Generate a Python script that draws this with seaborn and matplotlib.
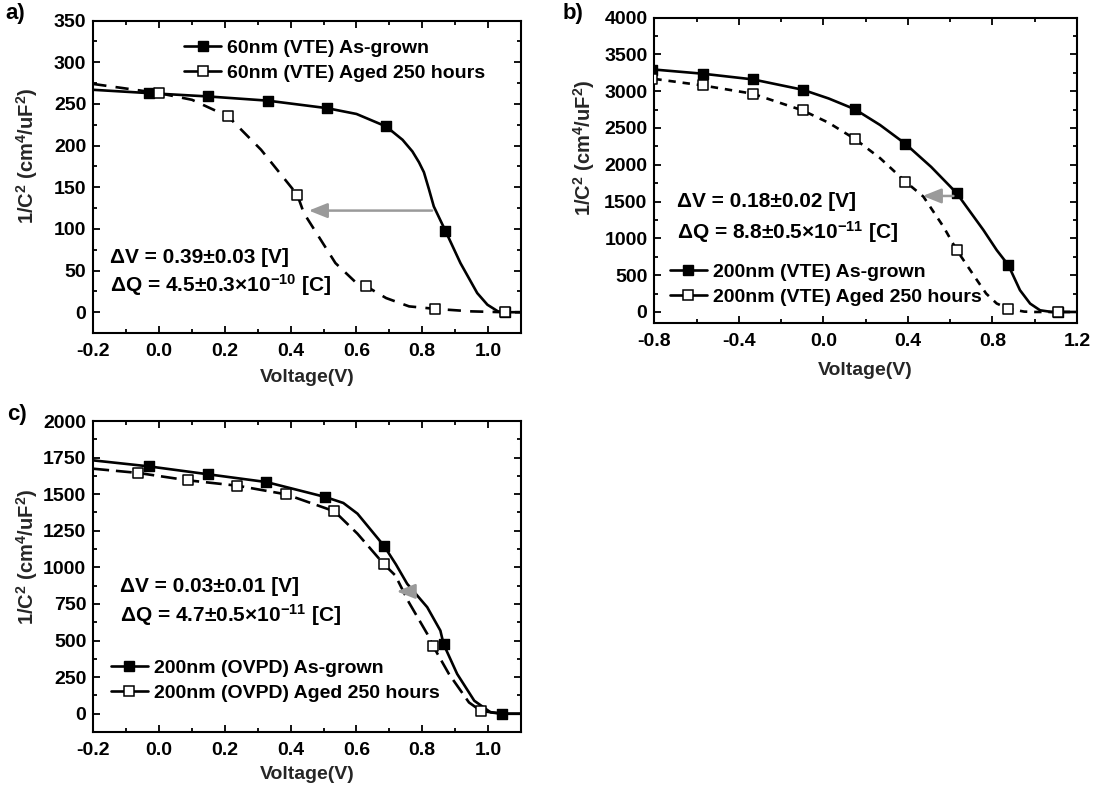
import matplotlib
matplotlib.use("Agg")
import matplotlib.pyplot as plt
import seaborn as sns
from matplotlib.lines import Line2D
from matplotlib.ticker import MultipleLocator, FormatStrFormatter

# ---------------- data ----------------
# Panel a) 60nm (VTE)
a_grown_mx = [-0.03, 0.15, 0.33, 0.51, 0.69, 0.87, 1.05]
a_grown_my = [263, 259, 254, 245, 223, 98, 0]
a_aged_mx = [0.0, 0.21, 0.42, 0.63, 0.84, 1.05]
a_aged_my = [263, 235, 141, 31, 4, 0]
a_grown_cx = [-0.2, -0.03, 0.15, 0.33, 0.51, 0.60, 0.69, 0.74, 0.77, 0.79, 0.805, 0.82, 0.835, 0.87, 0.916, 0.967, 0.998, 1.03, 1.05, 1.1]
a_grown_cy = [267, 263, 259, 254, 245, 238, 223, 207, 193, 180, 168, 148, 127, 98, 59, 23, 9, 1, 0, 0]
a_aged_cx = [-0.2, 0.0, 0.1, 0.21, 0.31, 0.42, 0.44, 0.536, 0.60, 0.63, 0.69, 0.76, 0.84, 0.95, 1.05, 1.1]
a_aged_cy = [274, 263, 255, 235, 195, 141, 119, 59, 35, 31, 17, 7, 4, 1, 0, 0]

# Panel b) 200nm (VTE)
b_grown_mx = [-0.81, -0.572, -0.335, -0.098, 0.148, 0.388, 0.63, 0.875, 1.11]
b_grown_my = [3282, 3237, 3160, 3019, 2755, 2284, 1616, 636, 0]
b_aged_mx = [-0.81, -0.572, -0.335, -0.098, 0.148, 0.388, 0.63, 0.875, 1.11]
b_aged_my = [3160, 3078, 2965, 2738, 2352, 1771, 845, 45, 0]
b_grown_cx = [-0.8, -0.572, -0.335, -0.098, 0.025, 0.148, 0.268, 0.388, 0.51, 0.63, 0.757, 0.82, 0.875, 0.93, 0.978, 1.025, 1.08, 1.2]
b_grown_cy = [3293, 3237, 3160, 3019, 2900, 2755, 2540, 2284, 1970, 1616, 1113, 840, 636, 296, 114, 23, 0, 0]
b_aged_cx = [-0.8, -0.572, -0.335, -0.098, 0.025, 0.148, 0.268, 0.388, 0.473, 0.568, 0.63, 0.72, 0.77, 0.82, 0.875, 0.95, 1.0, 1.2]
b_aged_cy = [3166, 3078, 2965, 2738, 2570, 2352, 2090, 1771, 1567, 1158, 845, 460, 250, 115, 45, 5, 0, 0]

# Panel c) 200nm (OVPD)
c_grown_mx = [-0.031, 0.149, 0.326, 0.505, 0.684, 0.865, 1.042]
c_grown_my = [1690, 1636, 1583, 1481, 1146, 474, 0]
c_aged_mx = [-0.063, 0.087, 0.238, 0.386, 0.533, 0.684, 0.833, 0.979]
c_aged_my = [1645, 1595, 1558, 1499, 1383, 1020, 462, 18]
c_grown_cx = [-0.2, -0.031, 0.149, 0.326, 0.505, 0.56, 0.603, 0.684, 0.72, 0.754, 0.815, 0.855, 0.865, 0.906, 0.958, 1.008, 1.042, 1.1]
c_grown_cy = [1731, 1690, 1636, 1583, 1481, 1440, 1367, 1146, 1020, 888, 728, 568, 474, 272, 89, 9, 0, 0]
c_aged_cx = [-0.2, -0.063, 0.087, 0.238, 0.386, 0.533, 0.603, 0.684, 0.718, 0.759, 0.815, 0.833, 0.881, 0.942, 0.979, 1.05, 1.1]
c_aged_cy = [1674, 1645, 1595, 1558, 1499, 1383, 1230, 1020, 945, 762, 546, 462, 272, 77, 18, 0, 0]

a_labels = ["60nm (VTE) As-grown", "60nm (VTE) Aged 250 hours"]
b_labels = ["200nm (VTE) As-grown", "200nm (VTE) Aged 250 hours"]
c_labels = ["200nm (OVPD) As-grown", "200nm (OVPD) Aged 250 hours"]
a_notes = ["\u0394V = 0.39\u00b10.03 [V]", "\u0394Q = 4.5\u00b10.3\u00d710$^{-10}$ [C]"]
b_notes = ["\u0394V = 0.18\u00b10.02 [V]", "\u0394Q = 8.8\u00b10.5\u00d710$^{-11}$ [C]"]
c_notes = ["\u0394V = 0.03\u00b10.01 [V]", "\u0394Q = 4.7\u00b10.5\u00d710$^{-11}$ [C]"]

# ---------------- style ----------------
sns.set_theme(style="ticks")
plt.rcParams.update({
    "font.family": ["Liberation Sans", "DejaVu Sans"],
    "font.weight": "bold",
    "axes.labelweight": "bold",
    "axes.unicode_minus": False,
    "mathtext.fontset": "custom",
    "mathtext.rm": "Liberation Sans:bold",
    "mathtext.bf": "Liberation Sans:bold",
    "mathtext.it": "Liberation Sans:bold",
    "mathtext.default": "bf",
    "text.color": "black",
    "axes.edgecolor": "black",
    "xtick.color": "black",
    "ytick.color": "black",
})

fig = plt.figure(figsize=(10.94, 7.89), dpi=100)
axA = fig.add_axes([0.0853, 0.5779, 0.3909, 0.3959])
axB = fig.add_axes([0.5981, 0.5906, 0.3864, 0.3872])
axC = fig.add_axes([0.0853, 0.0722, 0.3909, 0.3942])

LW = 1.9
TICK_FS = 14
YLABEL = "1/C$^2$ (cm$^4$/uF$^2$)"


def panel(ax, gcx, gcy, gmx, gmy, acx, acy, amx, amy, dashes, xlim, ylim,
          xmaj, xmin, ymaj, ymin, labels, leg_anchor, notes, note_pos, ylab_y, xpad):
    sns.lineplot(x=gcx, y=gcy, ax=ax, color="black", lw=LW, sort=False, estimator=None)
    sns.lineplot(x=acx, y=acy, ax=ax, color="black", lw=LW, sort=False, estimator=None)
    ax.lines[-1].set_dashes(dashes)
    sns.scatterplot(x=gmx, y=gmy, ax=ax, marker="s", s=60, color="black",
                    edgecolor="black", linewidth=1.0, zorder=3)
    sns.scatterplot(x=amx, y=amy, ax=ax, marker="s", s=55, color="white",
                    edgecolor="black", linewidth=1.1, zorder=4)
    ax.set_xlim(*xlim)
    ax.set_ylim(*ylim)
    ax.xaxis.set_major_locator(MultipleLocator(xmaj))
    ax.xaxis.set_minor_locator(MultipleLocator(xmin))
    ax.yaxis.set_major_locator(MultipleLocator(ymaj))
    ax.yaxis.set_minor_locator(MultipleLocator(ymin))
    ax.xaxis.set_major_formatter(FormatStrFormatter("%.1f"))
    ax.yaxis.set_major_formatter(FormatStrFormatter("%d"))
    ax.tick_params(which="both", direction="in", top=True, right=True, width=1.3)
    ax.tick_params(which="major", length=5, labelsize=TICK_FS)
    ax.tick_params(which="minor", length=3)
    ax.tick_params(axis="x", which="major", pad=7)
    ax.tick_params(axis="y", which="major", pad=5)
    for lab in ax.get_xticklabels() + ax.get_yticklabels():
        lab.set_fontweight("bold")
    for sp in ax.spines.values():
        sp.set_linewidth(1.5)
        sp.set_visible(True)
    ax.set_xlabel("Voltage(V)", fontsize=14, fontweight="bold", labelpad=xpad)
    ax.set_ylabel(YLABEL, fontsize=14.5, fontweight="bold")
    ax.yaxis.set_label_coords(-0.125, ylab_y)
    handles = [
        Line2D([], [], color="black", lw=LW, marker="s", markersize=7.5,
               markerfacecolor="black", markeredgecolor="black"),
        Line2D([], [], color="black", lw=LW, marker="s", markersize=7.5,
               markerfacecolor="white", markeredgecolor="black", markeredgewidth=1.1),
    ]
    ax.legend(handles, labels, loc="upper left", bbox_to_anchor=leg_anchor,
              frameon=False, prop={"weight": "bold", "size": 14},
              handlelength=1.9, handletextpad=0.3, labelspacing=0.36,
              borderpad=0, borderaxespad=0)
    for t, (nx, ny) in zip(notes, note_pos):
        ax.text(nx, ny, t, fontsize=15, fontweight="bold", ha="left", va="baseline")


panel(axA, a_grown_cx, a_grown_cy, a_grown_mx, a_grown_my,
      a_aged_cx, a_aged_cy, a_aged_mx, a_aged_my, (5, 3.5),
      (-0.2, 1.1), (-25, 350), 0.2, 0.1, 50, 25, a_labels, (0.213, 0.94),
      a_notes, [(-0.15, 59), (-0.15, 25)], 0.567, 7)
panel(axB, b_grown_cx, b_grown_cy, b_grown_mx, b_grown_my,
      b_aged_cx, b_aged_cy, b_aged_mx, b_aged_my, (2.8, 2.6),
      (-0.8, 1.2), (-150, 4000), 0.4, 0.2, 500, 250, b_labels, (0.037, 0.195),
      b_notes, [(-0.694, 1420), (-0.694, 1000)], 0.573, 9)
panel(axC, c_grown_cx, c_grown_cy, c_grown_mx, c_grown_my,
      c_aged_cx, c_aged_cy, c_aged_mx, c_aged_my, (6, 2.6),
      (-0.2, 1.1), (-125, 2000), 0.2, 0.1, 250, 125, c_labels, (0.041, 0.233),
      c_notes, [(-0.12, 830), (-0.12, 628)], 0.563, 5)
axB.yaxis.set_label_coords(-0.136, 0.573)

# gray shift arrows
arrow = dict(arrowstyle="-|>,head_length=0.8,head_width=0.32", color="#9a9a9a", lw=1.8,
             mutation_scale=14, shrinkA=0, shrinkB=0)
axA.annotate("", xy=(0.455, 122), xytext=(0.83, 122), arrowprops=arrow)
axB.annotate("", xy=(0.47, 1576), xytext=(0.615, 1576), arrowprops=arrow)
axC.annotate("", xy=(0.722, 836), xytext=(0.758, 836), arrowprops=arrow)

# panel labels
fig.text(5 / 1094, 1 - 13 / 789, "a)", fontsize=16, fontweight="bold", ha="left", va="center")
fig.text(563 / 1094, 1 - 13 / 789, "b)", fontsize=16, fontweight="bold", ha="left", va="center")
fig.text(7 / 1094, 1 - 414 / 789, "c)", fontsize=16, fontweight="bold", ha="left", va="center")

fig.savefig("out.png", dpi=100)
